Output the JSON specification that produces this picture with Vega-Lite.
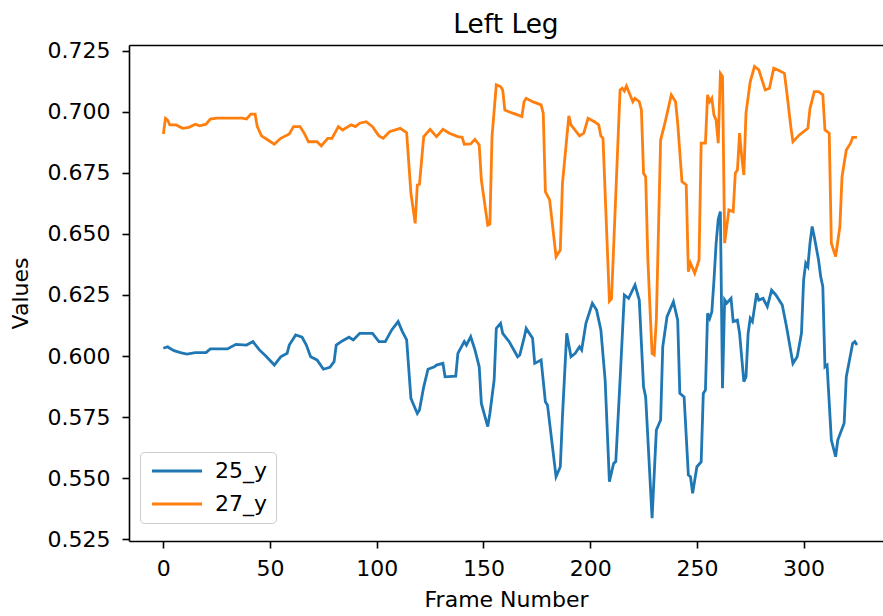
{
  "$schema": "https://vega.github.io/schema/vega-lite/v6.json",
  "autosize": {"type": "none"},
  "padding": {"left": 129, "top": 45, "right": 0, "bottom": 75},
  "width": 754,
  "height": 496,
  "background": "#ffffff",
  "config": {
    "font": "DejaVu Sans",
    "view": {"stroke": null},
    "axis": {"grid": false, "domainColor": "#000000", "domainWidth": 1.6, "tickColor": "#000000", "tickWidth": 1.6, "tickSize": 7, "labelFontSize": 22, "labelColor": "#000000", "titleFontSize": 22, "titleFontWeight": "normal", "titleColor": "#000000", "labelFont": "DejaVu Sans", "titleFont": "DejaVu Sans"}
  },
  "title": {"text": "Left Leg", "fontSize": 26.4, "fontWeight": "normal", "font": "DejaVu Sans", "color": "#000000", "offset": 1, "anchor": "middle"},
  "data": {"values": [
    {"frame":0,"value":0.6032,"series":"25_y"},{"frame":2,"value":0.6038,"series":"25_y"},{"frame":3,"value":0.6032,"series":"25_y"},{"frame":5,"value":0.6022,"series":"25_y"},{"frame":8,"value":0.6014,"series":"25_y"},{"frame":11,"value":0.6008,"series":"25_y"},{"frame":15,"value":0.6014,"series":"25_y"},{"frame":20,"value":0.6014,"series":"25_y"},{"frame":22,"value":0.6029,"series":"25_y"},{"frame":30,"value":0.6029,"series":"25_y"},{"frame":34,"value":0.6048,"series":"25_y"},{"frame":39,"value":0.6045,"series":"25_y"},{"frame":42,"value":0.6059,"series":"25_y"},{"frame":45,"value":0.6025,"series":"25_y"},{"frame":48,"value":0.6000,"series":"25_y"},{"frame":52,"value":0.5963,"series":"25_y"},{"frame":55,"value":0.5997,"series":"25_y"},{"frame":58,"value":0.6011,"series":"25_y"},{"frame":59,"value":0.6045,"series":"25_y"},{"frame":62,"value":0.6086,"series":"25_y"},{"frame":65,"value":0.6077,"series":"25_y"},{"frame":67,"value":0.6045,"series":"25_y"},{"frame":69,"value":0.5997,"series":"25_y"},{"frame":72,"value":0.5984,"series":"25_y"},{"frame":75,"value":0.5946,"series":"25_y"},{"frame":78,"value":0.5954,"series":"25_y"},{"frame":80,"value":0.5977,"series":"25_y"},{"frame":81,"value":0.6045,"series":"25_y"},{"frame":84,"value":0.6063,"series":"25_y"},{"frame":87,"value":0.6077,"series":"25_y"},{"frame":89,"value":0.6066,"series":"25_y"},{"frame":92,"value":0.6093,"series":"25_y"},{"frame":98,"value":0.6093,"series":"25_y"},{"frame":101,"value":0.6059,"series":"25_y"},{"frame":104,"value":0.6059,"series":"25_y"},{"frame":107,"value":0.6107,"series":"25_y"},{"frame":110,"value":0.6141,"series":"25_y"},{"frame":112,"value":0.6100,"series":"25_y"},{"frame":114,"value":0.6066,"series":"25_y"},{"frame":116,"value":0.5827,"series":"25_y"},{"frame":117,"value":0.5806,"series":"25_y"},{"frame":119,"value":0.5765,"series":"25_y"},{"frame":120,"value":0.5779,"series":"25_y"},{"frame":122,"value":0.5874,"series":"25_y"},{"frame":124,"value":0.5946,"series":"25_y"},{"frame":127,"value":0.5956,"series":"25_y"},{"frame":128,"value":0.5963,"series":"25_y"},{"frame":131,"value":0.5970,"series":"25_y"},{"frame":132,"value":0.5915,"series":"25_y"},{"frame":137,"value":0.5918,"series":"25_y"},{"frame":138,"value":0.6011,"series":"25_y"},{"frame":141,"value":0.6059,"series":"25_y"},{"frame":142,"value":0.6045,"series":"25_y"},{"frame":144,"value":0.6079,"series":"25_y"},{"frame":146,"value":0.6025,"series":"25_y"},{"frame":148,"value":0.5956,"series":"25_y"},{"frame":149,"value":0.5806,"series":"25_y"},{"frame":152,"value":0.5711,"series":"25_y"},{"frame":153,"value":0.5765,"series":"25_y"},{"frame":155,"value":0.5902,"series":"25_y"},{"frame":156,"value":0.6113,"series":"25_y"},{"frame":158,"value":0.6134,"series":"25_y"},{"frame":159,"value":0.6093,"series":"25_y"},{"frame":162,"value":0.6059,"series":"25_y"},{"frame":166,"value":0.5997,"series":"25_y"},{"frame":167,"value":0.6004,"series":"25_y"},{"frame":169,"value":0.6073,"series":"25_y"},{"frame":170,"value":0.6113,"series":"25_y"},{"frame":173,"value":0.6073,"series":"25_y"},{"frame":174,"value":0.5970,"series":"25_y"},{"frame":177,"value":0.5984,"series":"25_y"},{"frame":179,"value":0.5813,"series":"25_y"},{"frame":180,"value":0.5799,"series":"25_y"},{"frame":184,"value":0.5506,"series":"25_y"},{"frame":186,"value":0.5547,"series":"25_y"},{"frame":187,"value":0.5752,"series":"25_y"},{"frame":189,"value":0.6093,"series":"25_y"},{"frame":191,"value":0.5997,"series":"25_y"},{"frame":193,"value":0.6011,"series":"25_y"},{"frame":195,"value":0.6038,"series":"25_y"},{"frame":196,"value":0.6025,"series":"25_y"},{"frame":198,"value":0.6134,"series":"25_y"},{"frame":201,"value":0.6216,"series":"25_y"},{"frame":203,"value":0.6188,"series":"25_y"},{"frame":205,"value":0.6107,"series":"25_y"},{"frame":207,"value":0.5902,"series":"25_y"},{"frame":209,"value":0.5486,"series":"25_y"},{"frame":211,"value":0.5561,"series":"25_y"},{"frame":212,"value":0.5568,"series":"25_y"},{"frame":214,"value":0.5902,"series":"25_y"},{"frame":216,"value":0.6250,"series":"25_y"},{"frame":218,"value":0.6236,"series":"25_y"},{"frame":221,"value":0.6291,"series":"25_y"},{"frame":223,"value":0.6229,"series":"25_y"},{"frame":225,"value":0.5874,"series":"25_y"},{"frame":226,"value":0.5833,"series":"25_y"},{"frame":229,"value":0.5336,"series":"25_y"},{"frame":231,"value":0.5697,"series":"25_y"},{"frame":233,"value":0.5738,"series":"25_y"},{"frame":234,"value":0.6038,"series":"25_y"},{"frame":236,"value":0.6161,"series":"25_y"},{"frame":239,"value":0.6222,"series":"25_y"},{"frame":241,"value":0.6147,"series":"25_y"},{"frame":242,"value":0.5847,"series":"25_y"},{"frame":244,"value":0.5833,"series":"25_y"},{"frame":246,"value":0.5513,"series":"25_y"},{"frame":247,"value":0.5506,"series":"25_y"},{"frame":248,"value":0.5438,"series":"25_y"},{"frame":250,"value":0.5547,"series":"25_y"},{"frame":252,"value":0.5567,"series":"25_y"},{"frame":253,"value":0.5847,"series":"25_y"},{"frame":254,"value":0.5861,"series":"25_y"},{"frame":255,"value":0.6175,"series":"25_y"},{"frame":256,"value":0.6154,"series":"25_y"},{"frame":257,"value":0.6181,"series":"25_y"},{"frame":258,"value":0.6311,"series":"25_y"},{"frame":259,"value":0.6460,"series":"25_y"},{"frame":260,"value":0.6560,"series":"25_y"},{"frame":261,"value":0.6591,"series":"25_y"},{"frame":262,"value":0.5868,"series":"25_y"},{"frame":263,"value":0.6230,"series":"25_y"},{"frame":264,"value":0.6216,"series":"25_y"},{"frame":266,"value":0.6236,"series":"25_y"},{"frame":267,"value":0.6141,"series":"25_y"},{"frame":269,"value":0.6147,"series":"25_y"},{"frame":270,"value":0.6093,"series":"25_y"},{"frame":272,"value":0.5895,"series":"25_y"},{"frame":273,"value":0.5915,"series":"25_y"},{"frame":274,"value":0.6093,"series":"25_y"},{"frame":275,"value":0.6154,"series":"25_y"},{"frame":276,"value":0.6141,"series":"25_y"},{"frame":278,"value":0.6257,"series":"25_y"},{"frame":279,"value":0.6229,"series":"25_y"},{"frame":281,"value":0.6236,"series":"25_y"},{"frame":283,"value":0.6202,"series":"25_y"},{"frame":285,"value":0.6270,"series":"25_y"},{"frame":287,"value":0.6250,"series":"25_y"},{"frame":290,"value":0.6209,"series":"25_y"},{"frame":292,"value":0.6120,"series":"25_y"},{"frame":295,"value":0.5970,"series":"25_y"},{"frame":297,"value":0.5997,"series":"25_y"},{"frame":299,"value":0.6093,"series":"25_y"},{"frame":300,"value":0.6311,"series":"25_y"},{"frame":301,"value":0.6380,"series":"25_y"},{"frame":302,"value":0.6366,"series":"25_y"},{"frame":303,"value":0.6462,"series":"25_y"},{"frame":304,"value":0.6530,"series":"25_y"},{"frame":305,"value":0.6488,"series":"25_y"},{"frame":307,"value":0.6393,"series":"25_y"},{"frame":308,"value":0.6325,"series":"25_y"},{"frame":309,"value":0.6284,"series":"25_y"},{"frame":310,"value":0.5956,"series":"25_y"},{"frame":311,"value":0.5963,"series":"25_y"},{"frame":313,"value":0.5656,"series":"25_y"},{"frame":315,"value":0.5588,"series":"25_y"},{"frame":316,"value":0.5656,"series":"25_y"},{"frame":319,"value":0.5725,"series":"25_y"},{"frame":320,"value":0.5915,"series":"25_y"},{"frame":323,"value":0.6052,"series":"25_y"},{"frame":324,"value":0.6059,"series":"25_y"},{"frame":325,"value":0.6045,"series":"25_y"},
    {"frame":0,"value":0.6909,"series":"27_y"},{"frame":1,"value":0.6973,"series":"27_y"},{"frame":2,"value":0.6966,"series":"27_y"},{"frame":3,"value":0.6946,"series":"27_y"},{"frame":6,"value":0.6946,"series":"27_y"},{"frame":9,"value":0.6932,"series":"27_y"},{"frame":12,"value":0.6936,"series":"27_y"},{"frame":15,"value":0.6949,"series":"27_y"},{"frame":17,"value":0.6942,"series":"27_y"},{"frame":20,"value":0.6949,"series":"27_y"},{"frame":22,"value":0.6970,"series":"27_y"},{"frame":25,"value":0.6974,"series":"27_y"},{"frame":37,"value":0.6974,"series":"27_y"},{"frame":39,"value":0.6970,"series":"27_y"},{"frame":41,"value":0.6990,"series":"27_y"},{"frame":43,"value":0.6990,"series":"27_y"},{"frame":44,"value":0.6939,"series":"27_y"},{"frame":46,"value":0.6901,"series":"27_y"},{"frame":49,"value":0.6884,"series":"27_y"},{"frame":52,"value":0.6867,"series":"27_y"},{"frame":55,"value":0.6891,"series":"27_y"},{"frame":59,"value":0.6909,"series":"27_y"},{"frame":61,"value":0.6939,"series":"27_y"},{"frame":64,"value":0.6939,"series":"27_y"},{"frame":66,"value":0.6912,"series":"27_y"},{"frame":68,"value":0.6877,"series":"27_y"},{"frame":72,"value":0.6877,"series":"27_y"},{"frame":74,"value":0.6860,"series":"27_y"},{"frame":77,"value":0.6891,"series":"27_y"},{"frame":79,"value":0.6891,"series":"27_y"},{"frame":82,"value":0.6939,"series":"27_y"},{"frame":84,"value":0.6925,"series":"27_y"},{"frame":88,"value":0.6946,"series":"27_y"},{"frame":90,"value":0.6939,"series":"27_y"},{"frame":92,"value":0.6953,"series":"27_y"},{"frame":95,"value":0.6959,"series":"27_y"},{"frame":98,"value":0.6939,"series":"27_y"},{"frame":101,"value":0.6901,"series":"27_y"},{"frame":103,"value":0.6891,"series":"27_y"},{"frame":106,"value":0.6918,"series":"27_y"},{"frame":111,"value":0.6932,"series":"27_y"},{"frame":114,"value":0.6914,"series":"27_y"},{"frame":116,"value":0.6666,"series":"27_y"},{"frame":118,"value":0.6543,"series":"27_y"},{"frame":119,"value":0.6700,"series":"27_y"},{"frame":120,"value":0.6703,"series":"27_y"},{"frame":122,"value":0.6898,"series":"27_y"},{"frame":125,"value":0.6928,"series":"27_y"},{"frame":128,"value":0.6898,"series":"27_y"},{"frame":131,"value":0.6928,"series":"27_y"},{"frame":134,"value":0.6912,"series":"27_y"},{"frame":138,"value":0.6898,"series":"27_y"},{"frame":140,"value":0.6895,"series":"27_y"},{"frame":141,"value":0.6867,"series":"27_y"},{"frame":144,"value":0.6868,"series":"27_y"},{"frame":146,"value":0.6887,"series":"27_y"},{"frame":148,"value":0.6864,"series":"27_y"},{"frame":149,"value":0.6721,"series":"27_y"},{"frame":152,"value":0.6536,"series":"27_y"},{"frame":153,"value":0.6540,"series":"27_y"},{"frame":154,"value":0.6898,"series":"27_y"},{"frame":156,"value":0.7110,"series":"27_y"},{"frame":158,"value":0.7103,"series":"27_y"},{"frame":159,"value":0.7089,"series":"27_y"},{"frame":160,"value":0.7007,"series":"27_y"},{"frame":163,"value":0.6996,"series":"27_y"},{"frame":166,"value":0.6987,"series":"27_y"},{"frame":168,"value":0.6980,"series":"27_y"},{"frame":169,"value":0.7041,"series":"27_y"},{"frame":170,"value":0.7055,"series":"27_y"},{"frame":173,"value":0.7041,"series":"27_y"},{"frame":177,"value":0.7028,"series":"27_y"},{"frame":178,"value":0.6994,"series":"27_y"},{"frame":179,"value":0.6673,"series":"27_y"},{"frame":181,"value":0.6639,"series":"27_y"},{"frame":184,"value":0.6407,"series":"27_y"},{"frame":186,"value":0.6434,"series":"27_y"},{"frame":187,"value":0.6707,"series":"27_y"},{"frame":190,"value":0.6983,"series":"27_y"},{"frame":191,"value":0.6946,"series":"27_y"},{"frame":195,"value":0.6901,"series":"27_y"},{"frame":197,"value":0.6912,"series":"27_y"},{"frame":199,"value":0.6973,"series":"27_y"},{"frame":202,"value":0.6959,"series":"27_y"},{"frame":204,"value":0.6946,"series":"27_y"},{"frame":205,"value":0.6901,"series":"27_y"},{"frame":206,"value":0.6891,"series":"27_y"},{"frame":209,"value":0.6225,"series":"27_y"},{"frame":210,"value":0.6235,"series":"27_y"},{"frame":214,"value":0.7089,"series":"27_y"},{"frame":215,"value":0.7096,"series":"27_y"},{"frame":216,"value":0.7085,"series":"27_y"},{"frame":217,"value":0.7105,"series":"27_y"},{"frame":219,"value":0.7062,"series":"27_y"},{"frame":220,"value":0.7041,"series":"27_y"},{"frame":221,"value":0.7055,"series":"27_y"},{"frame":223,"value":0.7041,"series":"27_y"},{"frame":224,"value":0.7007,"series":"27_y"},{"frame":225,"value":0.6748,"series":"27_y"},{"frame":226,"value":0.6734,"series":"27_y"},{"frame":227,"value":0.6400,"series":"27_y"},{"frame":228,"value":0.6200,"series":"27_y"},{"frame":229,"value":0.6010,"series":"27_y"},{"frame":230,"value":0.6004,"series":"27_y"},{"frame":231,"value":0.6150,"series":"27_y"},{"frame":233,"value":0.6884,"series":"27_y"},{"frame":235,"value":0.6953,"series":"27_y"},{"frame":238,"value":0.7069,"series":"27_y"},{"frame":240,"value":0.7041,"series":"27_y"},{"frame":241,"value":0.6953,"series":"27_y"},{"frame":243,"value":0.6714,"series":"27_y"},{"frame":245,"value":0.6700,"series":"27_y"},{"frame":246,"value":0.6345,"series":"27_y"},{"frame":247,"value":0.6380,"series":"27_y"},{"frame":249,"value":0.6339,"series":"27_y"},{"frame":251,"value":0.6393,"series":"27_y"},{"frame":252,"value":0.6871,"series":"27_y"},{"frame":254,"value":0.6871,"series":"27_y"},{"frame":255,"value":0.7069,"series":"27_y"},{"frame":256,"value":0.7041,"series":"27_y"},{"frame":257,"value":0.7055,"series":"27_y"},{"frame":258,"value":0.6986,"series":"27_y"},{"frame":259,"value":0.6966,"series":"27_y"},{"frame":260,"value":0.6871,"series":"27_y"},{"frame":261,"value":0.7157,"series":"27_y"},{"frame":262,"value":0.7144,"series":"27_y"},{"frame":263,"value":0.6462,"series":"27_y"},{"frame":265,"value":0.6598,"series":"27_y"},{"frame":267,"value":0.6591,"series":"27_y"},{"frame":268,"value":0.6748,"series":"27_y"},{"frame":269,"value":0.6762,"series":"27_y"},{"frame":270,"value":0.6912,"series":"27_y"},{"frame":271,"value":0.6816,"series":"27_y"},{"frame":272,"value":0.6741,"series":"27_y"},{"frame":273,"value":0.6994,"series":"27_y"},{"frame":275,"value":0.7123,"series":"27_y"},{"frame":277,"value":0.7185,"series":"27_y"},{"frame":279,"value":0.7171,"series":"27_y"},{"frame":282,"value":0.7089,"series":"27_y"},{"frame":284,"value":0.7096,"series":"27_y"},{"frame":286,"value":0.7178,"series":"27_y"},{"frame":288,"value":0.7171,"series":"27_y"},{"frame":291,"value":0.7157,"series":"27_y"},{"frame":292,"value":0.7089,"series":"27_y"},{"frame":294,"value":0.6939,"series":"27_y"},{"frame":295,"value":0.6877,"series":"27_y"},{"frame":298,"value":0.6905,"series":"27_y"},{"frame":302,"value":0.6932,"series":"27_y"},{"frame":303,"value":0.7014,"series":"27_y"},{"frame":305,"value":0.7082,"series":"27_y"},{"frame":307,"value":0.7082,"series":"27_y"},{"frame":309,"value":0.7069,"series":"27_y"},{"frame":310,"value":0.6925,"series":"27_y"},{"frame":312,"value":0.6912,"series":"27_y"},{"frame":313,"value":0.6462,"series":"27_y"},{"frame":315,"value":0.6407,"series":"27_y"},{"frame":317,"value":0.6530,"series":"27_y"},{"frame":318,"value":0.6734,"series":"27_y"},{"frame":320,"value":0.6843,"series":"27_y"},{"frame":322,"value":0.6871,"series":"27_y"},{"frame":323,"value":0.6895,"series":"27_y"},{"frame":325,"value":0.6895,"series":"27_y"}
  ]},
  "resolve": {"axis": {"x": "independent"}},
  "layer": [
    {
      "mark": {"type": "line", "strokeWidth": 2.8, "clip": true},
      "encoding": {
        "x": {"field": "frame", "type": "quantitative", "scale": {"domain": [-16.1, 337.2], "nice": false, "zero": false},
              "axis": {"values": [0, 50, 100, 150, 200, 250, 300], "title": "Frame Number", "labelPadding": 10, "titlePadding": 10, "labelFlush": false}},
        "y": {"field": "value", "type": "quantitative", "scale": {"domain": [0.5243, 0.7273], "nice": false, "zero": false},
              "axis": {"values": [0.525, 0.55, 0.575, 0.6, 0.625, 0.65, 0.675, 0.7, 0.725], "format": ".3f", "title": "Values", "labelPadding": 12, "titlePadding": 15, "labelFlush": false}},
        "color": {"field": "series", "type": "nominal",
                  "scale": {"domain": ["25_y", "27_y"], "range": ["#1f77b4", "#ff7f0e"]},
                  "legend": {"title": null, "orient": "none", "legendX": 11, "legendY": 407, "symbolType": "M-5,0L5,0", "symbolSize": 100, "symbolOffset": 18, "symbolStrokeWidth": 3, "labelFontSize": 22, "labelFont": "DejaVu Sans", "labelColor": "#000000", "labelOffset": 27, "padding": 8, "rowPadding": 11, "strokeColor": "#cccccc", "fillColor": "#ffffff", "cornerRadius": 4}},
        "detail": {"field": "series"}
      }
    },
    {
      "mark": {"type": "line", "opacity": 0},
      "encoding": {
        "x": {"field": "frame", "type": "quantitative", "axis": {"orient": "top", "labels": false, "ticks": false, "title": null}},
        "y": {"field": "value", "type": "quantitative"},
        "detail": {"field": "series"}
      }
    }
  ]
}
